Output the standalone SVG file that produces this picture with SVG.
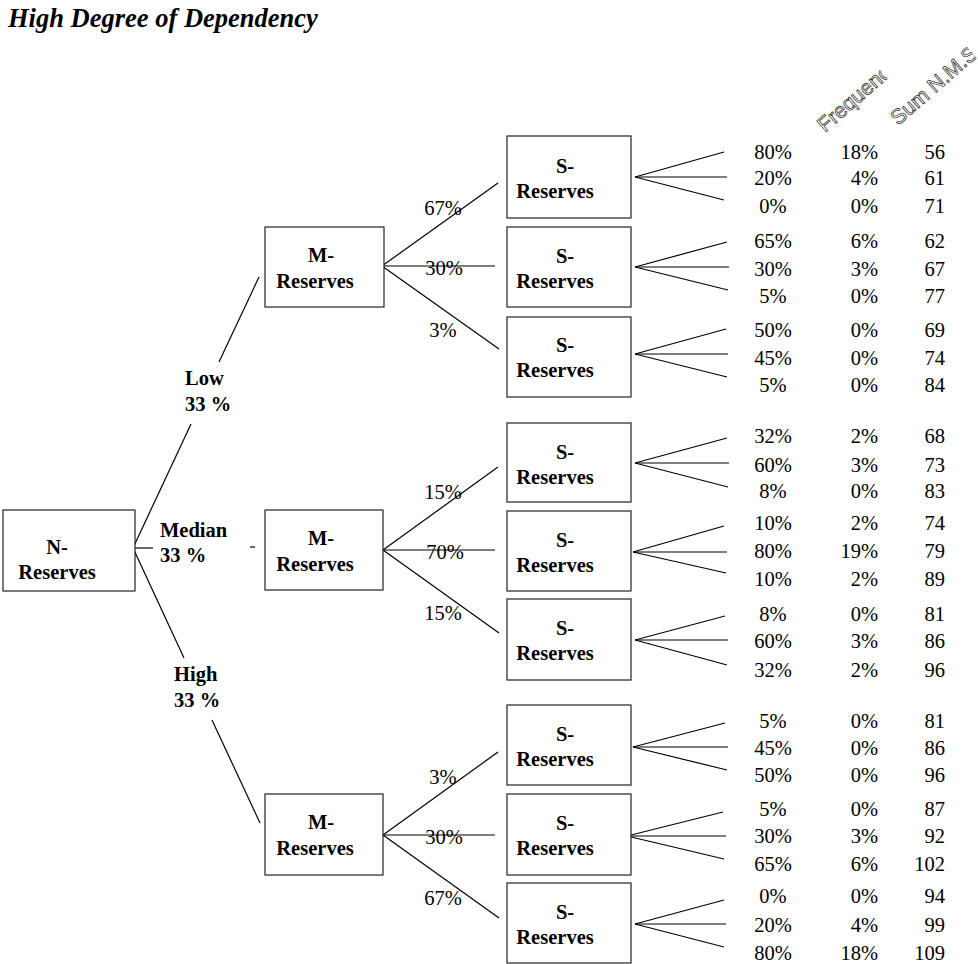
<svg xmlns="http://www.w3.org/2000/svg" width="978" height="964" viewBox="0 0 978 964">
<style>
.bg{fill:#fff}
.box{fill:#fff;stroke:#222;stroke-width:1.2}
text{font-family:'Liberation Serif','Times New Roman','DejaVu Serif',serif}
.lbl{font-weight:bold;font-size:20.5px;fill:#000;text-anchor:middle}
.blbl{font-weight:bold;font-size:20.5px;fill:#000}
.pct{font-size:20.5px;fill:#000;text-anchor:middle}
.c1{font-size:20.5px;fill:#000;text-anchor:middle}
.c2,.c3{font-size:20.5px;fill:#000;text-anchor:end}
text.hdr{font-family:'Liberation Sans',Arial,sans-serif;font-size:21px;fill:#fff;stroke:#222;stroke-width:0.7}
.title{font-weight:bold;font-style:italic;font-size:26.5px;fill:#000}
#connectors line{stroke:#000;stroke-width:1.2}
</style>
<defs>
<clipPath id="clipF"><rect x="0" y="-25" width="83" height="35"/></clipPath>
<clipPath id="clipS"><rect x="0" y="-25" width="104" height="35"/></clipPath>
</defs>
<rect class="bg" x="0" y="0" width="978" height="964"/>
<text class="title" x="8" y="27">High Degree of Dependency</text>

<g id="headers">
<g transform="translate(825,133) rotate(-41)"><text class="hdr" x="0" y="0" clip-path="url(#clipF)">Frequency</text></g>
<g transform="translate(898,126) rotate(-41)"><text class="hdr" x="0" y="0" clip-path="url(#clipS)">Sum N.M.S.</text></g>
</g>

<g id="connectors">
<line x1="133" y1="548" x2="191" y2="424"/>
<line x1="219" y1="362" x2="259" y2="277"/>
<line x1="133" y1="548" x2="153" y2="548"/>
<line x1="250" y1="547" x2="255" y2="547"/>
<line x1="133" y1="548" x2="184" y2="658"/>
<line x1="212" y1="720" x2="260" y2="823"/>

<line x1="382" y1="266" x2="498" y2="183"/>
<line x1="382" y1="266" x2="495" y2="266"/>
<line x1="382" y1="266" x2="499" y2="349"/>
<line x1="383" y1="550" x2="498" y2="467"/>
<line x1="383" y1="550" x2="495" y2="550"/>
<line x1="383" y1="550" x2="499" y2="633"/>
<line x1="383" y1="835" x2="498" y2="752"/>
<line x1="383" y1="835" x2="495" y2="835"/>
<line x1="383" y1="835" x2="499" y2="918"/>

<line x1="635" y1="177" x2="724" y2="152"/><line x1="635" y1="177" x2="727" y2="177"/><line x1="635" y1="177" x2="724" y2="200"/>
<line x1="635" y1="267" x2="727" y2="242"/><line x1="635" y1="267" x2="729" y2="267"/><line x1="635" y1="267" x2="728" y2="290"/>
<line x1="635" y1="354" x2="726" y2="329"/><line x1="635" y1="354" x2="728" y2="354"/><line x1="635" y1="354" x2="727" y2="377"/>
<line x1="635" y1="463" x2="727" y2="438"/><line x1="635" y1="463" x2="729" y2="463"/><line x1="635" y1="463" x2="728" y2="487"/>
<line x1="633" y1="552" x2="724" y2="526"/><line x1="633" y1="552" x2="727" y2="552"/><line x1="633" y1="552" x2="726" y2="573"/>
<line x1="635" y1="640" x2="725" y2="616"/><line x1="635" y1="640" x2="728" y2="640"/><line x1="635" y1="640" x2="727" y2="665"/>
<line x1="633" y1="747" x2="725" y2="723"/><line x1="633" y1="747" x2="728" y2="747"/><line x1="633" y1="747" x2="727" y2="770"/>
<line x1="627" y1="836" x2="723" y2="812"/><line x1="627" y1="836" x2="726" y2="836"/><line x1="627" y1="836" x2="724" y2="859"/>
<line x1="635" y1="924" x2="724" y2="900"/><line x1="635" y1="924" x2="726" y2="924"/><line x1="635" y1="924" x2="724" y2="947"/>
</g>

<g id="branch-labels">
<text class="blbl" x="185" y="385">Low</text>
<text class="blbl" x="185" y="411">33 %</text>
<text class="blbl" x="160" y="537">Median</text>
<text class="blbl" x="160" y="562">33 %</text>
<text class="blbl" x="174" y="681">High</text>
<text class="blbl" x="174" y="707">33 %</text>

<text class="pct" x="443" y="215">67%</text>
<text class="pct" x="444" y="275">30%</text>
<text class="pct" x="443" y="337">3%</text>
<text class="pct" x="443" y="499">15%</text>
<text class="pct" x="445" y="559">70%</text>
<text class="pct" x="443" y="620">15%</text>
<text class="pct" x="443" y="784">3%</text>
<text class="pct" x="444" y="844">30%</text>
<text class="pct" x="443" y="905">67%</text>
</g>

<g id="n-reserves"><rect class="box" x="3" y="510" width="132" height="81"/><text class="lbl" x="57" y="554">N-</text><text class="lbl" x="57" y="579">Reserves</text></g>

<g id="m-low"><rect class="box" x="265" y="227" width="119" height="80"/><text class="lbl" x="321" y="262">M-</text><text class="lbl" x="315" y="288">Reserves</text></g>
<g id="m-median"><rect class="box" x="265" y="510" width="118" height="80"/><text class="lbl" x="321" y="545">M-</text><text class="lbl" x="315" y="571">Reserves</text></g>
<g id="m-high"><rect class="box" x="265" y="794" width="118" height="81"/><text class="lbl" x="321" y="829">M-</text><text class="lbl" x="315" y="855">Reserves</text></g>

<g id="s1"><rect class="box" x="507" y="136" width="124" height="82"/><text class="lbl" x="565" y="173">S-</text><text class="lbl" x="555" y="198">Reserves</text></g>
<g id="s2"><rect class="box" x="507" y="227" width="124" height="80"/><text class="lbl" x="565" y="263">S-</text><text class="lbl" x="555" y="288">Reserves</text></g>
<g id="s3"><rect class="box" x="507" y="317" width="124" height="80"/><text class="lbl" x="565" y="352">S-</text><text class="lbl" x="555" y="377">Reserves</text></g>
<g id="s4"><rect class="box" x="507" y="423" width="124" height="79"/><text class="lbl" x="565" y="459">S-</text><text class="lbl" x="555" y="484">Reserves</text></g>
<g id="s5"><rect class="box" x="507" y="511" width="124" height="80"/><text class="lbl" x="565" y="547">S-</text><text class="lbl" x="555" y="572">Reserves</text></g>
<g id="s6"><rect class="box" x="507" y="599" width="124" height="81"/><text class="lbl" x="565" y="635">S-</text><text class="lbl" x="555" y="660">Reserves</text></g>
<g id="s7"><rect class="box" x="507" y="705" width="124" height="80"/><text class="lbl" x="565" y="741">S-</text><text class="lbl" x="555" y="766">Reserves</text></g>
<g id="s8"><rect class="box" x="507" y="794" width="124" height="81"/><text class="lbl" x="565" y="830">S-</text><text class="lbl" x="555" y="855">Reserves</text></g>
<g id="s9"><rect class="box" x="507" y="883" width="124" height="80"/><text class="lbl" x="565" y="919">S-</text><text class="lbl" x="555" y="944">Reserves</text></g>

<g id="table">
<text class="c1" x="773" y="159">80%</text><text class="c2" x="878" y="159">18%</text><text class="c3" x="945" y="159">56</text>
<text class="c1" x="773" y="185">20%</text><text class="c2" x="878" y="185">4%</text><text class="c3" x="945" y="185">61</text>
<text class="c1" x="773" y="213">0%</text><text class="c2" x="878" y="213">0%</text><text class="c3" x="945" y="213">71</text>

<text class="c1" x="773" y="248">65%</text><text class="c2" x="878" y="248">6%</text><text class="c3" x="945" y="248">62</text>
<text class="c1" x="773" y="276">30%</text><text class="c2" x="878" y="276">3%</text><text class="c3" x="945" y="276">67</text>
<text class="c1" x="773" y="303">5%</text><text class="c2" x="878" y="303">0%</text><text class="c3" x="945" y="303">77</text>

<text class="c1" x="773" y="337">50%</text><text class="c2" x="878" y="337">0%</text><text class="c3" x="945" y="337">69</text>
<text class="c1" x="773" y="365">45%</text><text class="c2" x="878" y="365">0%</text><text class="c3" x="945" y="365">74</text>
<text class="c1" x="773" y="392">5%</text><text class="c2" x="878" y="392">0%</text><text class="c3" x="945" y="392">84</text>

<text class="c1" x="773" y="443">32%</text><text class="c2" x="878" y="443">2%</text><text class="c3" x="945" y="443">68</text>
<text class="c1" x="773" y="472">60%</text><text class="c2" x="878" y="472">3%</text><text class="c3" x="945" y="472">73</text>
<text class="c1" x="773" y="498">8%</text><text class="c2" x="878" y="498">0%</text><text class="c3" x="945" y="498">83</text>

<text class="c1" x="773" y="530">10%</text><text class="c2" x="878" y="530">2%</text><text class="c3" x="945" y="530">74</text>
<text class="c1" x="773" y="558">80%</text><text class="c2" x="878" y="558">19%</text><text class="c3" x="945" y="558">79</text>
<text class="c1" x="773" y="586">10%</text><text class="c2" x="878" y="586">2%</text><text class="c3" x="945" y="586">89</text>

<text class="c1" x="773" y="621">8%</text><text class="c2" x="878" y="621">0%</text><text class="c3" x="945" y="621">81</text>
<text class="c1" x="773" y="648">60%</text><text class="c2" x="878" y="648">3%</text><text class="c3" x="945" y="648">86</text>
<text class="c1" x="773" y="677">32%</text><text class="c2" x="878" y="677">2%</text><text class="c3" x="945" y="677">96</text>

<text class="c1" x="773" y="728">5%</text><text class="c2" x="878" y="728">0%</text><text class="c3" x="945" y="728">81</text>
<text class="c1" x="773" y="755">45%</text><text class="c2" x="878" y="755">0%</text><text class="c3" x="945" y="755">86</text>
<text class="c1" x="773" y="782">50%</text><text class="c2" x="878" y="782">0%</text><text class="c3" x="945" y="782">96</text>

<text class="c1" x="773" y="816">5%</text><text class="c2" x="878" y="816">0%</text><text class="c3" x="945" y="816">87</text>
<text class="c1" x="773" y="843">30%</text><text class="c2" x="878" y="843">3%</text><text class="c3" x="945" y="843">92</text>
<text class="c1" x="773" y="871">65%</text><text class="c2" x="878" y="871">6%</text><text class="c3" x="945" y="871">102</text>

<text class="c1" x="773" y="903">0%</text><text class="c2" x="878" y="903">0%</text><text class="c3" x="945" y="903">94</text>
<text class="c1" x="773" y="932">20%</text><text class="c2" x="878" y="932">4%</text><text class="c3" x="945" y="932">99</text>
<text class="c1" x="773" y="960">80%</text><text class="c2" x="878" y="960">18%</text><text class="c3" x="945" y="960">109</text>
</g>
</svg>
